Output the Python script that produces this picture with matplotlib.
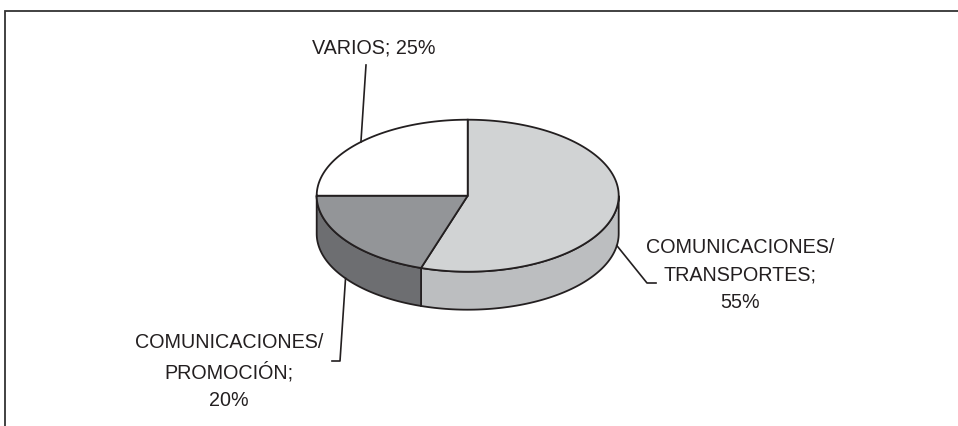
import numpy as np
import matplotlib.pyplot as plt
from matplotlib.patches import Polygon

# Distribución del gasto
categorias = ['COMUNICACIONES/\nTRANSPORTES', 'COMUNICACIONES/\nPROMOCIÓN', 'VARIOS']
porcentajes = [55, 20, 25]
color_tapa = ['#d1d3d4', '#939598', '#ffffff']
color_lado = ['#bcbec0', '#6d6e71', '#ffffff']

# posición de cada etiqueta (centro, borde superior) y codo de la línea guía
pos_texto = [(740, 238), (229, 333), (374, 38)]
codo = [[(647, 283), (656, 283)], [(340, 361), (332, 361)], [(366, 65)]]

plt.rcParams['font.family'] = ['Liberation Sans', 'DejaVu Sans']
borde = '#231f20'

fig = plt.figure(figsize=(9.58, 4.26), dpi=100)
ax = fig.add_axes([0, 0, 1, 1])
ax.set_xlim(0, 958)
ax.set_ylim(426, 0)
ax.axis('off')

# geometría del pastel en perspectiva
cx, cy = 467.7, 195.7
rx, ry = 151, 76
alto = 38


def punto(ang, dy=0):
    a = np.radians(ang)
    return cx + rx * np.cos(a), cy - ry * np.sin(a) + dy


# ángulos de cada porción, empezando arriba y en sentido horario
fr = np.array(porcentajes) / sum(porcentajes)
fin = 90 - 360 * np.cumsum(fr)
ini = np.concatenate([[90], fin[:-1]])

# paredes laterales (solo la mitad frontal)
for a0, a1, cl in zip(ini, fin, color_lado):
    lo, hi = max(a1, -180), min(a0, 0)
    if hi <= lo:
        continue
    t = np.linspace(hi, lo, 80)
    arriba = [punto(a) for a in t]
    abajo = [punto(a, alto) for a in t[::-1]]
    ax.add_patch(Polygon(arriba + abajo, closed=True, fc=cl, ec=borde, lw=1.3, zorder=2))

# tapas
for a0, a1, ct in zip(ini, fin, color_tapa):
    t = np.linspace(a0, a1, 120)
    pts = [(cx, cy)] + [punto(a) for a in t]
    ax.add_patch(Polygon(pts, closed=True, fc=ct, ec=borde, lw=1.3, zorder=3))

# etiquetas con líneas guía
for i, (cat, p) in enumerate(zip(categorias, porcentajes)):
    medio = (ini[i] + fin[i]) / 2
    if np.sin(np.radians(medio)) < 0:
        ancla = punto(medio, alto)
    else:
        ancla = punto(medio)
    linea = [ancla] + codo[i]
    ax.plot([q[0] for q in linea], [q[1] for q in linea], color=borde, lw=1.2, zorder=4)
    if '\n' in cat:
        txt = f'{cat};\n{p}%'
    else:
        txt = f'{cat}; {p}%'
    ax.text(pos_texto[i][0], pos_texto[i][1], txt, ha='center', va='top',
            multialignment='center', fontsize=14.2, color=borde, linespacing=1.58)

# marco del gráfico
ax.plot([5.5, 5.5, 958], [426, 10.5, 10.5], color='#333333', lw=1.3, solid_joinstyle='miter')

fig.savefig('out.png', dpi=100)
